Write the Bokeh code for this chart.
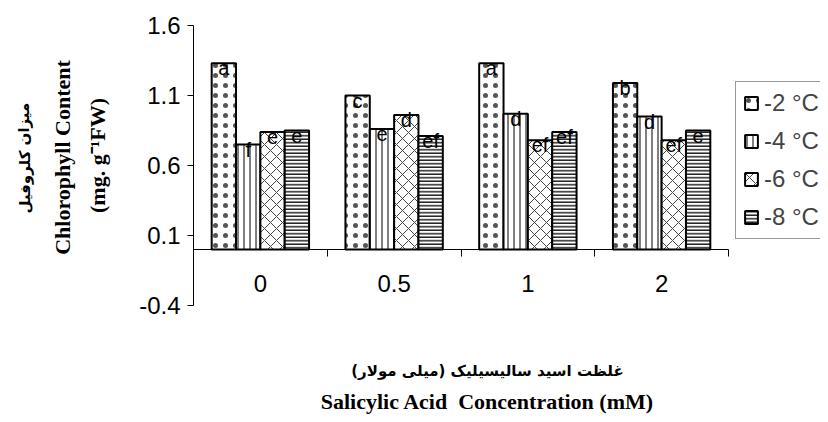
from bokeh.plotting import figure
from bokeh.models import Range1d, FixedTicker, Legend, LegendItem, Label, ColumnDataSource
from bokeh.core.properties import value
from bokeh.embed import file_html
from bokeh.resources import INLINE

# ---- data ----
categories = ["0", "0.5", "1", "2"]
temps = ["-2 °C", "-4 °C", "-6 °C", "-8 °C"]
chl_m2 = [1.33, 1.10, 1.33, 1.19]
chl_m4 = [0.75, 0.86, 0.97, 0.95]
chl_m6 = [0.84, 0.96, 0.78, 0.78]
chl_m8 = [0.85, 0.81, 0.84, 0.85]
let_m2 = ["a", "c", "a", "b"]
let_m4 = ["f", "e", "d", "d"]
let_m6 = ["e", "d", "ef", "ef"]
let_m8 = ["e", "ef", "ef", "e"]
y_ticks = [-0.4, 0.1, 0.6, 1.1, 1.6]

# ---- layout: the frame fills the canvas; axes sit at fixed locations ----
W, H = 820, 414
AX_LEFT, AX_RIGHT, AX_TOP, AX_BOTTOM = 193, 728, 25, 305   # pixel box of the value area
YMIN, YMAX = -0.4, 1.6
NCAT = len(categories)
PX_PER_X = (AX_RIGHT - AX_LEFT) / NCAT
PX_PER_Y = (AX_BOTTOM - AX_TOP) / (YMAX - YMIN)


def dx(px):
    return (px - AX_LEFT) / PX_PER_X


def dy(py):
    return YMAX - (py - AX_TOP) / PX_PER_Y


p = figure(width=W, height=H, x_range=Range1d(dx(0), dx(W)), y_range=Range1d(dy(H), dy(0)),
           output_backend="svg", toolbar_location=None,
           min_border_left=0, min_border_right=0, min_border_top=0, min_border_bottom=0)
p.xgrid.visible = False
p.ygrid.visible = False
p.outline_line_color = None
p.background_fill_color = "white"
p.border_fill_color = "white"

series = [chl_m2, chl_m4, chl_m6, chl_m8]
letters = [let_m2, let_m4, let_m6, let_m8]
styles = [
    dict(hatch_pattern="dot", hatch_scale=10, hatch_weight=0.5, hatch_color="#555555"),
    dict(hatch_pattern="vertical_line", hatch_scale=6, hatch_weight=1.0, hatch_color="black"),
    dict(hatch_pattern="diagonal_cross", hatch_scale=12, hatch_weight=1.0, hatch_color="#444444"),
    dict(hatch_pattern="horizontal_line", hatch_scale=3.5, hatch_weight=1.5, hatch_color="#222222"),
]
bw = 0.182
items = []
sources = []
for i, (vals, labs, st, name) in enumerate(zip(series, letters, styles, temps)):
    xs = [j + 0.5 + (i - 1.5) * bw for j in range(NCAT)]
    src = ColumnDataSource(dict(x=xs, top=vals, lab=labs))
    sources.append(src)
    r = p.vbar(x="x", top="top", bottom=0, width=bw, source=src,
               fill_color="white", line_color="black", line_width=2, **st)
    items.append(LegendItem(label=name, renderers=[r]))

for src in sources:
    p.text(x="x", y="top", text="lab", source=src, text_align="center",
           text_baseline="middle", y_offset=5, text_font=value("Liberation Sans"),
           text_font_size="20px", text_color="black")

# ---- axes ----
yax = p.yaxis[0]
yax.fixed_location = 0
yax.bounds = (YMIN, YMAX)
yax.ticker = FixedTicker(ticks=y_ticks)
yax.major_label_overrides = {t: f"{t:g}" for t in y_ticks}
yax.major_label_text_font = "Liberation Sans"
yax.major_label_text_font_size = "24px"
yax.major_label_text_color = "black"
yax.major_tick_out = 6
yax.major_tick_in = 0
yax.minor_tick_line_color = None
yax.major_label_standoff = 7
yax.axis_line_color = "black"
yax.major_tick_line_color = "black"

xax = p.xaxis[0]
xax.fixed_location = 0
xax.bounds = (0, NCAT)
xax.ticker = FixedTicker(ticks=[j + 0.5 for j in range(NCAT)], minor_ticks=list(range(NCAT + 1)))
xax.major_label_overrides = {j + 0.5: c for j, c in enumerate(categories)}
xax.major_tick_line_color = None
xax.major_tick_out = 7
xax.major_tick_in = 0
xax.minor_tick_out = 7
xax.minor_tick_in = 0
xax.minor_tick_line_color = "black"
xax.axis_line_color = "black"
xax.major_label_text_font = "Liberation Sans"
xax.major_label_text_font_size = "24px"
xax.major_label_text_color = "black"
xax.major_label_standoff = 18

# ---- legend ----
legend = Legend(items=items, location=(735, H - 239), orientation="vertical",
                border_line_color="#333333", border_line_width=1,
                background_fill_color="white", background_fill_alpha=1.0,
                label_text_font="Liberation Sans", label_text_font_size="24px",
                glyph_width=16, glyph_height=16, label_height=28, spacing=10,
                padding=7, margin=0, label_standoff=5)
p.add_layout(legend)


# ---- titles ----
def add_label(txt, px, py, font, size, angle=0.0, style="bold"):
    p.add_layout(Label(x=dx(px), y=dy(py), text=txt, angle=angle, text_align="center",
                       text_baseline="middle", text_font=font, text_font_size=size,
                       text_font_style=style, text_color="black"))


add_label("میزان  کلروفیل", 24, 155, "DejaVu Sans", "15px", angle=1.5708)
add_label("Chlorophyll Content", 62, 157, "Liberation Serif", "22px", angle=1.5708)
add_label("(mg. g⁻¹FW)", 97, 155, "Liberation Serif", "22px", angle=1.5708)
add_label("غلظت اسید سالیسیلیک (میلی مولار)", 487, 370, "DejaVu Sans", "15px")
add_label("Salicylic Acid\u00a0 Concentration (mM)", 487, 401, "Liberation Serif", "22px")

open("out.html", "w").write(file_html(p, INLINE))
